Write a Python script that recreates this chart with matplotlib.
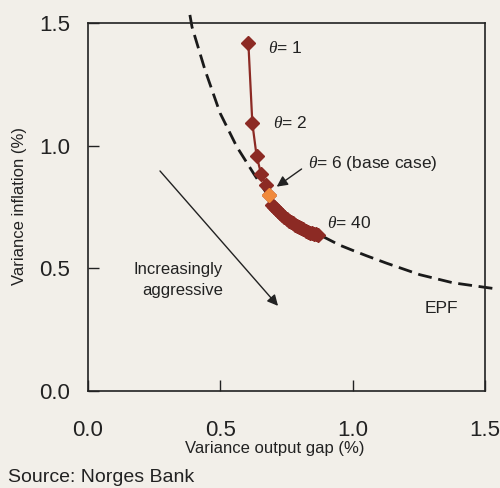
import matplotlib
matplotlib.use("Agg")
import matplotlib.pyplot as plt

FAM = ['Liberation Sans', 'DejaVu Sans']
plt.rcParams['font.family'] = FAM
plt.rcParams['mathtext.fontset'] = 'custom'
plt.rcParams['mathtext.it'] = 'Liberation Serif:italic'
plt.rcParams['mathtext.rm'] = 'Liberation Sans'

# Efficient policy frontier (EPF)
epf_x = [0.385, 0.393, 0.442, 0.499, 0.562, 0.625, 0.675, 0.725, 0.775, 0.876,
         0.950, 1.003, 1.053, 1.128, 1.254, 1.379, 1.497, 1.531]
epf_y = [1.533, 1.484, 1.309, 1.133, 0.996, 0.888, 0.806, 0.748, 0.697, 0.636,
         0.595, 0.572, 0.551, 0.521, 0.474, 0.441, 0.423, 0.418]

# Outcomes for different theta
theta_x = [0.606, 0.621, 0.637, 0.654, 0.672, 0.684,
           0.694, 0.702, 0.710, 0.718, 0.726, 0.734, 0.742, 0.750, 0.758, 0.766,
           0.774, 0.782, 0.790, 0.798, 0.806, 0.814, 0.822, 0.830, 0.838, 0.846,
           0.854, 0.862, 0.870]
theta_y = [1.417, 1.091, 0.958, 0.885, 0.840, 0.799,
           0.758, 0.749, 0.741, 0.733, 0.725, 0.716, 0.708, 0.701, 0.694, 0.688,
           0.683, 0.678, 0.673, 0.669, 0.664, 0.659, 0.654, 0.650, 0.646, 0.643,
           0.640, 0.638, 0.636]
base_x = [0.684]
base_y = [0.799]

xticks = [0.0, 0.5, 1.0, 1.5]
yticks = [0.0, 0.5, 1.0, 1.5]
xtick_labels = ['0.0', '0.5', '1.0', '1.5']
ytick_labels = ['0.0', '0.5', '1.0', '1.5']

BG = '#f2efe9'
RED = '#8c2a24'
ORANGE = '#f08a3c'
INK = '#222222'

fig = plt.figure(figsize=(5.0, 4.88), dpi=100, facecolor=BG)
ax = fig.add_axes([0.176, 0.1988, 0.794, 0.754])
ax.set_facecolor(BG)
ax.set_xlim(0, 1.5)
ax.set_ylim(0, 1.5)

ax.plot(epf_x, epf_y, color='#1a1a1a', lw=2.0, dashes=(5, 2.4), clip_on=False, zorder=2)
ax.plot(theta_x, theta_y, color=RED, lw=1.6, marker='D', ms=7.2, mec=RED, mfc=RED, zorder=3)
ax.plot(base_x, base_y, ls='none', marker='D', ms=7.5, mec=ORANGE, mfc=ORANGE, zorder=4)

ax.set_xticks(xticks)
ax.set_xticklabels(xtick_labels)
ax.set_yticks(yticks)
ax.set_yticklabels(ytick_labels)
ax.tick_params(direction='in', length=8, width=1, labelsize=16, colors=INK)
ax.tick_params(axis='x', pad=21)
ax.tick_params(axis='y', pad=13)
for s in ax.spines.values():
    s.set_linewidth(1.2)
    s.set_color(INK)

tk = dict(fontsize=12.5, color=INK, va='center', ha='left')
ax.text(0.680, 1.398, r'$\theta$= 1', **tk)
ax.text(0.698, 1.093, r'$\theta$= 2', **tk)
ax.text(0.831, 0.929, r'$\theta$= 6 (base case)', **tk)
ax.text(0.903, 0.686, r'$\theta$= 40', **tk)
ax.text(1.273, 0.338, 'EPF', **tk)
ax.text(0.510, 0.452, 'Increasingly\naggressive', fontsize=12, color=INK,
        ha='right', va='center', multialignment='right', linespacing=1.55)

ax.annotate('', xy=(0.713, 0.833), xytext=(0.807, 0.905),
            arrowprops=dict(arrowstyle='-|>', color=INK, lw=1.0,
                            mutation_scale=16, shrinkA=0, shrinkB=0))
ax.annotate('', xy=(0.718, 0.347), xytext=(0.272, 0.897),
            arrowprops=dict(arrowstyle='-|>', color=INK, lw=1.0,
                            mutation_scale=16, shrinkA=0, shrinkB=0))

fig.text(275/500, 1-449/488, 'Variance output gap (%)', fontsize=12, color=INK,
         ha='center', va='center')
fig.text(20/500, 1-206/488, 'Variance inflation (%)', fontsize=12, color=INK,
         ha='center', va='center', rotation=90)
fig.text(8/500, 1-478/488, 'Source: Norges Bank', fontsize=14, color=INK,
         ha='left', va='center')

fig.savefig('out.png', dpi=100, facecolor=BG)
